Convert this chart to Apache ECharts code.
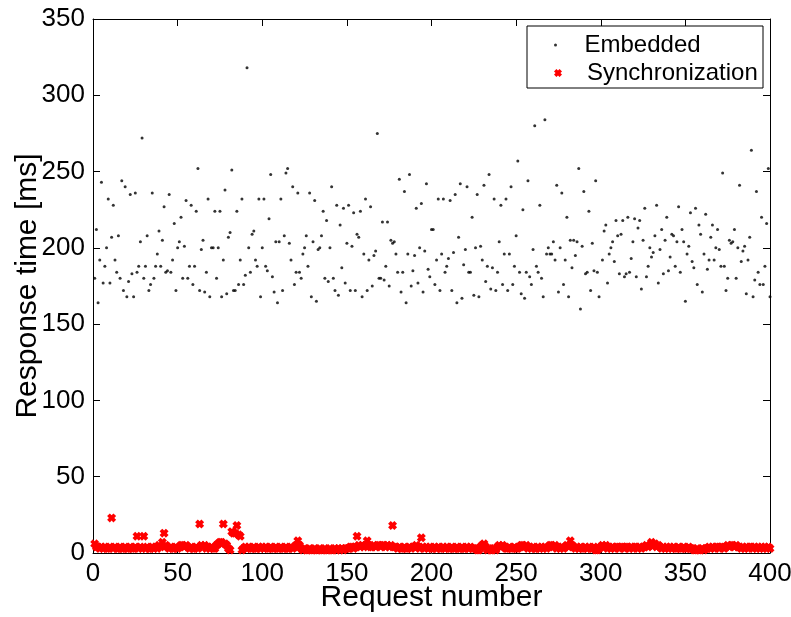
<!DOCTYPE html>
<html>
<head>
<meta charset="utf-8">
<script src="https://cdn.jsdelivr.net/npm/echarts@6/dist/echarts.min.js"></script>
<style>
  html, body { margin: 0; padding: 0; background: #fff; }
  #chart { width: 791px; height: 617px; }
</style>
</head>
<body>
<div id="chart"></div>
<script>
// axis ticks
var xTicks = [0, 50, 100, 150, 200, 250, 300, 350, 400];
var yTicks = [0, 50, 100, 150, 200, 250, 300, 350];

// series names
var seriesNames = ['Embedded', 'Synchronization'];

// response time of each request, ms (request 1..400), embedded client
var embeddedValues = [
  180,212,164,192,243,177,188,200,232,177,207,228,192,184,208,180,244,172,240,168,178,235,183,168,236,
  184,188,204,272,180,188,208,172,176,236,180,188,196,211,188,205,227,184,185,235,184,192,216,172,200,
  204,220,180,201,231,180,188,228,176,188,224,252,172,199,205,171,184,232,168,200,200,224,180,200,224,
  168,192,238,170,207,210,251,172,172,224,176,192,232,176,182,318,200,184,209,211,192,188,232,168,200,
  232,188,185,219,248,181,171,204,164,204,232,172,208,249,252,203,192,240,176,184,236,184,180,196,200,
  208,188,236,168,204,231,165,199,200,208,224,180,218,178,200,240,180,172,228,169,215,187,226,177,203,
  228,172,201,223,172,209,207,224,168,196,232,172,192,227,175,195,198,275,180,180,217,179,188,217,175,
  205,203,204,196,184,245,171,184,237,164,196,248,175,185,195,226,177,200,229,171,198,242,186,181,212,
  212,176,192,232,172,196,232,184,188,193,231,172,197,235,164,207,242,167,189,199,240,184,184,220,169,
  200,235,168,201,192,241,178,188,248,173,187,232,172,184,204,228,176,196,232,172,196,240,176,188,208,
  257,184,170,225,167,184,244,181,176,199,280,188,184,228,180,168,284,196,200,196,196,204,192,241,171,
  200,236,176,192,220,168,205,187,205,195,204,252,160,201,237,183,184,224,172,203,185,244,184,168,null,
  192,211,215,177,196,200,204,191,218,208,183,209,218,181,183,220,184,193,204,219,181,213,218,173,205,
  226,181,188,200,194,197,208,228,177,199,212,183,205,220,185,194,209,208,188,204,227,184,212,204,165,
  196,201,223,191,187,226,176,215,209,171,196,222,186,192,207,215,192,200,212,199,188,249,188,172,180,
  205,203,204,212,180,200,241,191,198,201,170,192,207,264,168,179,237,184,176,220,176,188,216,252,168
];

// response time of each request, ms (request 1..400), synchronization
var syncValues = [
  6,4,4,3,4,3,4,3,3,4,23,3,4,3,3,4,3,3,4,3,3,4,3,3,4,
  11,3,4,3,11,3,4,3,3,4,3,4,3,5,4,7,13,5,4,3,4,3,3,4,3,
  4,5,5,4,5,4,3,4,3,3,4,3,19,5,4,5,3,4,3,4,3,3,5,6,7,
  7,19,6,5,3,2,14,13,13,18,12,11,2,3,4,3,4,3,3,4,3,3,4,3,4,
  3,4,3,3,4,3,3,4,3,3,4,3,3,4,3,3,4,3,4,5,8,5,3,2,3,
  2,2,3,2,2,3,2,2,3,2,2,3,2,2,3,2,2,3,2,3,2,3,2,3,3,
  3,4,4,3,4,11,5,4,5,4,5,8,5,4,4,5,4,5,5,4,5,5,4,5,4,
  5,18,4,4,3,4,3,3,4,3,3,4,3,4,4,5,4,3,10,4,3,4,3,4,3,
  3,4,3,4,3,3,4,3,4,3,3,4,3,3,4,3,3,4,3,3,4,3,4,3,3,
  3,2,2,4,5,6,4,2,3,2,2,3,2,4,5,4,5,4,3,3,4,3,3,4,3,
  3,4,5,5,4,5,3,4,3,4,3,3,4,3,4,3,4,3,4,5,5,4,5,3,4,
  3,4,3,4,5,4,8,5,4,3,4,3,4,3,3,4,3,4,3,3,4,2,2,3,4,
  5,4,5,3,4,3,4,3,4,4,3,4,4,3,4,4,3,4,3,4,4,3,4,3,4,
  4,5,4,5,7,5,6,4,5,4,3,4,3,4,3,4,3,4,3,3,4,3,3,4,3,
  3,4,3,3,2,2,3,2,2,3,2,3,3,4,3,4,3,4,4,3,4,4,3,4,5,
  4,5,5,4,5,4,4,3,4,3,4,3,4,4,3,4,3,4,3,4,3,4,3,4,3
];

// 组装散点数据 [request, value]
function toPoints(values) {
  var pts = [];
  for (var i = 0; i < values.length; i++) {
    if (values[i] !== null) pts.push([i + 1, values[i]]);
  }
  return pts;
}

var FONT = '"Liberation Sans", Arial, Helvetica, sans-serif';
// bold "x" marker like matlab's
var crossPath = 'path://M0,3L3,0L5,2L7,0L10,3L8,5L10,7L7,10L5,8L3,10L0,7L2,5Z';

function boxAxis(ticks, pos, show) {
  return {
    type: 'value',
    position: pos,
    min: ticks[0],
    max: ticks[ticks.length - 1],
    interval: ticks[1] - ticks[0],
    splitLine: { show: false },
    axisLine: { show: true, onZero: false, lineStyle: { color: '#000', width: 1 } },
    axisTick: { show: true, inside: true, length: 7, lineStyle: { color: '#000', width: 1 } },
    axisLabel: { show: show, color: '#000', fontSize: 26, fontFamily: FONT, margin: 8 }
  };
}

var xBottom = boxAxis(xTicks, 'bottom', true);
xBottom.name = 'Request number';
xBottom.nameLocation = 'middle';
xBottom.nameGap = 30;
xBottom.nameMoveOverlap = false;
xBottom.nameTextStyle = { color: '#000', fontSize: 30, fontFamily: FONT, verticalAlign: 'top' };

var yLeft = boxAxis(yTicks, 'left', true);
yLeft.name = 'Response time [ms]';
yLeft.nameLocation = 'middle';
yLeft.nameGap = 50;
yLeft.nameMoveOverlap = false;
yLeft.nameTextStyle = { color: '#000', fontSize: 30, fontFamily: FONT };

var option = {
  animation: false,
  backgroundColor: '#fff',
  grid: { left: 93, right: 21, top: 19, bottom: 64, containLabel: false, outerBoundsMode: 'none' },
  xAxis: [xBottom, boxAxis(xTicks, 'top', false)],
  yAxis: [yLeft, boxAxis(yTicks, 'right', false)],
  graphic: [{
    type: 'rect', z: 3,
    shape: { x: 527, y: 26, width: 236, height: 62 },
    style: { fill: '#fff', stroke: '#000', lineWidth: 1 }
  }],
  legend: [{
    data: [{ name: seriesNames[0], icon: 'circle' }],
    left: 554, top: 33, padding: 0, z: 4,
    itemWidth: 48, itemHeight: 3,
    textStyle: { color: '#000', fontSize: 24, fontFamily: FONT }
  }, {
    data: [{ name: seriesNames[1], icon: crossPath }],
    left: 554, top: 61, padding: 0, z: 4,
    itemWidth: 48, itemHeight: 8,
    textStyle: { color: '#000', fontSize: 24, fontFamily: FONT }
  }],
  series: [{
    name: seriesNames[0],
    type: 'scatter',
    symbol: 'circle',
    symbolSize: 3,
    itemStyle: { color: '#000' },
    data: toPoints(embeddedValues)
  }, {
    name: seriesNames[1],
    type: 'scatter',
    symbol: crossPath,
    symbolSize: 9,
    itemStyle: { color: '#ff0000', opacity: 1 },
    data: toPoints(syncValues)
  }]
};

var myChart = echarts.init(document.getElementById('chart'));
myChart.setOption(option);
</script>
</body>
</html>
